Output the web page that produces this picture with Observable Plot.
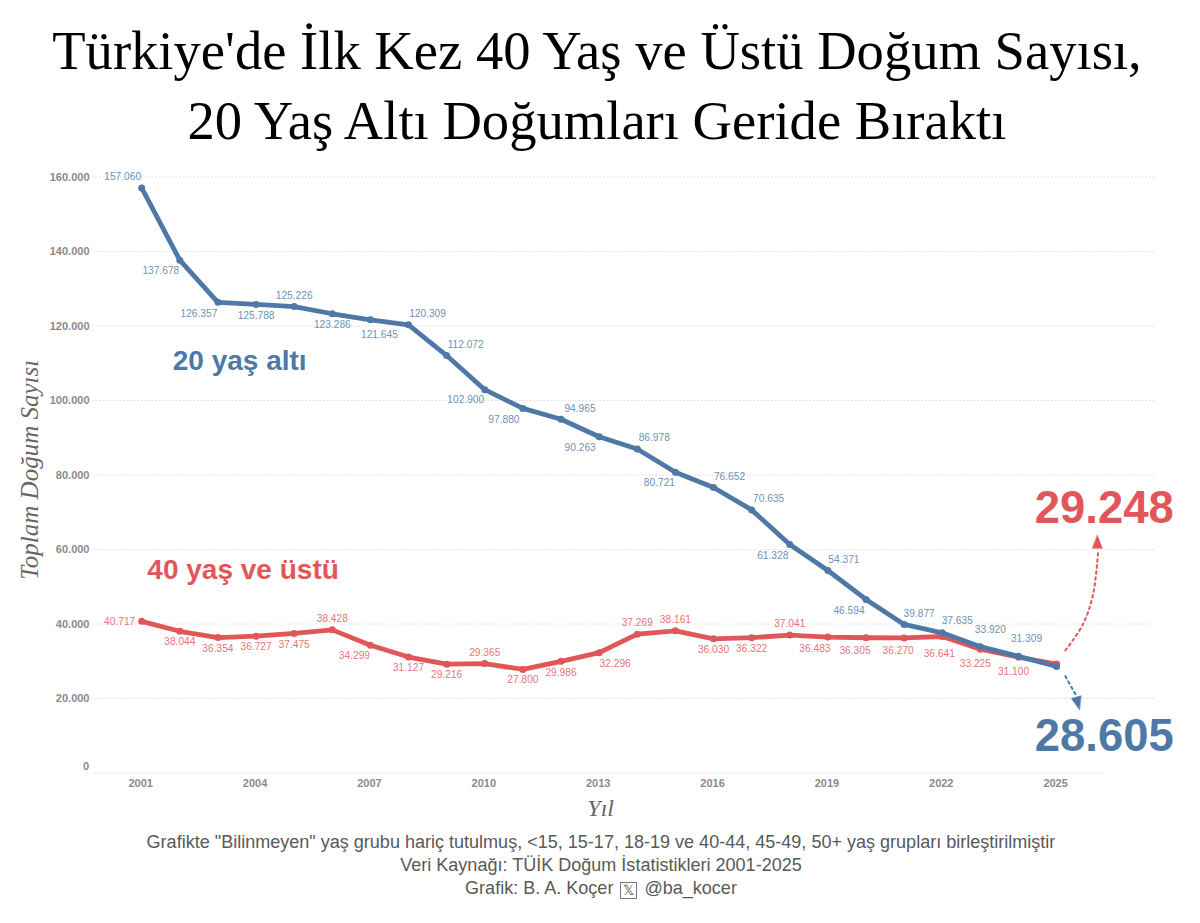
<!DOCTYPE html>
<html lang="tr"><head><meta charset="utf-8">
<script src="https://cdn.jsdelivr.net/npm/d3@7"></script>
<script src="https://cdn.jsdelivr.net/npm/@observablehq/plot@0.6"></script>
<style>
html,body{margin:0;padding:0;background:#fff;overflow:hidden}
#title{height:160px;box-sizing:border-box;padding-top:16px;text-align:center;font:54.6px/70px "Liberation Serif",serif;color:#000;position:relative;left:-3px}
#chart svg{display:block}
#caption{text-align:center;font:18.05px/23px "Liberation Sans",sans-serif;color:#595959;margin-top:-4px;position:relative;left:1px}
#caption .x{display:inline-block;box-sizing:border-box;width:17px;height:17px;line-height:15px;border:1px solid #777;font-size:14px;vertical-align:-1px;margin:0 2px}
</style></head><body>
<div id="title">Türkiye'de İlk Kez 40 Yaş ve Üstü Doğum Sayısı,<br>20 Yaş Altı Doğumları Geride Bıraktı</div>
<div id="chart"></div>
<div id="caption">Grafikte "Bilinmeyen" yaş grubu hariç tutulmuş, &lt;15, 15-17, 18-19 ve 40-44, 45-49, 50+ yaş grupları birleştirilmiştir<br>Veri Kaynağı: TÜİK Doğum İstatistikleri 2001-2025<br>Grafik: B. A. Koçer <span class="x">𝕏</span> @ba_kocer</div>
<script>
const years = d3.range(2001, 2026);
const under20 = [157060,137678,126357,125788,125226,123286,121645,120309,112072,102900,97880,94965,90263,86978,80721,76652,70635,61328,54371,46594,39877,37635,33920,31309,28605];
const over40 = [40717,38044,36354,36727,37475,38428,34299,31127,29216,29365,27800,29986,32296,37269,38161,36030,36322,37041,36483,36305,36270,36641,33225,31100,29248];
const tickYears = [2001,2004,2007,2010,2013,2016,2019,2022,2025];
const tickValues = [20000,40000,60000,80000,100000,120000,140000,160000];

// label nudges in pixels, one per year (last year is called out separately)
const under20Nudge = [[-19,-11],[-19,11],[-19,11],[0,11],[0,-11],[0,11],[9,15],[19,-11],[19,-11],[-19,10],[-19,11],[19,-11],[-19,11],[17,-11],[-16,10],[16,-11],[17,-11],[-17,11],[16,-11],[-17,11],[15,-11],[15,-12],[10,-17],[8,-18]];
const over40Nudge = [[-22,0],[0,10],[0,11],[0,11],[0,11],[0,-11],[-16,10],[0,11],[0,11],[0,-11],[0,10],[0,11],[16,11],[0,-11],[0,-11],[0,11],[0,11],[0,-11],[-13,12],[-11,13],[-6,13],[-3,17],[-5,14],[-5,15]];

const BLUE = "#4e79a7", RED = "#e15759";
const fmt = d3.formatLocale({decimal:",",thousands:".",grouping:[3],currency:["",""]}).format(",d");
const SANS = "Liberation Sans, Arial, sans-serif", SERIF = "Liberation Serif, serif";
const rows = (vals) => years.map((year,i)=>({year,value:vals[i]}));
const labels = (vals,nudge,color) => nudge.map((n,i)=>Plot.text([{year:years[i],value:vals[i]}],{
  x:"year",y:"value",text:d=>fmt(d.value),dx:n[0],dy:n[1],fill:color,fillOpacity:0.85,fontSize:10.2,fontFamily:SANS}));
const series = (vals,color) => [
  Plot.line(rows(vals),{x:"year",y:"value",stroke:color,strokeWidth:4.8,strokeLinejoin:"round"}),
  Plot.dot(rows(vals),{x:"year",y:"value",fill:color,r:3.5})
];
const head = {draw(c,l){c.moveTo(0,-l);c.lineTo(5,0);c.lineTo(-5,0);c.closePath();}};
const redArrow = [{x:2025.23,y:32900},{x:2025.70,y:40100},{x:2025.96,y:48200},{x:2026.09,y:59500}];
const blueArrow = [{x:2025.23,y:26000},{x:2025.42,y:22500},{x:2025.53,y:20500}];

const plot = Plot.plot({
  width:1200,height:675,marginLeft:92,marginRight:44,marginTop:16.5,marginBottom:62.5,
  style:{background:"#fff",fontFamily:SANS},
  x:{domain:[1999.71,2027.62],axis:null},
  y:{domain:[0,160000],axis:null},
  marks:[
    Plot.ruleY(tickValues,{stroke:"#dcdcdc",strokeWidth:1,strokeDasharray:"1.5,2"}),
    Plot.ruleY([0],{x1:1999.71,x2:2026.28,stroke:"#f0f0f0",strokeWidth:1}),
    Plot.axisY({ticks:tickValues,anchor:"left",tickSize:0,tickPadding:3,tickFormat:fmt,label:null,fill:"#8a8a8a",fontSize:11,fontWeight:"bold",fontFamily:SANS}),
    Plot.text([0],{x:[1999.71],y:d=>d,text:d=>String(d),dx:-3.5,dy:-6.5,textAnchor:"end",fill:"#8a8a8a",fontSize:11,fontWeight:"bold",fontFamily:SANS}),
    Plot.axisX({ticks:tickYears,anchor:"bottom",tickSize:0,tickPadding:6,dx:-1,tickFormat:d=>String(d),label:null,fill:"#8a8a8a",fontSize:11,fontWeight:"bold",fontFamily:SANS}),
    ...series(over40,RED),
    ...series(under20,BLUE),
    ...labels(under20,under20Nudge,BLUE),
    ...labels(over40,over40Nudge,RED),
    Plot.text(["20 yaş altı"],{x:[2003.57],y:[110600],text:d=>d,fill:BLUE,fontSize:28,fontWeight:"bold",fontFamily:SANS}),
    Plot.text(["40 yaş ve üstü"],{x:[2003.66],y:[54500],text:d=>d,fill:RED,fontSize:28,fontWeight:"bold",fontFamily:SANS}),
    Plot.text([fmt(over40[24])],{x:[2026.25],y:[71000],text:d=>d,fill:RED,fontSize:45.4,fontWeight:"bold",fontFamily:SANS}),
    Plot.text([fmt(under20[24])],{x:[2026.25],y:[9800],text:d=>d,fill:BLUE,fontSize:45.4,fontWeight:"bold",fontFamily:SANS}),
    Plot.line(redArrow,{x:"x",y:"y",curve:"catmull-rom",stroke:RED,strokeWidth:2,strokeDasharray:"2.5,3.5"}),
    Plot.vector([{x:2026.07,y:63800}],{x:"x",y:"y",length:13,rotate:0,anchor:"end",shape:head,fill:RED,stroke:RED,strokeWidth:0.5}),
    Plot.line(blueArrow,{x:"x",y:"y",curve:"catmull-rom",stroke:BLUE,strokeWidth:2,strokeDasharray:"2.5,3.5"}),
    Plot.vector([{x:2025.6,y:17000}],{x:"x",y:"y",length:13,rotate:165,anchor:"end",shape:head,fill:BLUE,stroke:BLUE,strokeWidth:0.5}),
    Plot.text(["Yıl"],{x:[2013.04],y:[-9600],text:d=>d,fill:"#666",fontSize:24,fontStyle:"italic",fontFamily:SERIF}),
    Plot.text(["Toplam Doğum Sayısı"],{x:[1998.06],y:[81400],text:d=>d,rotate:-90,fill:"#666",fontSize:25,fontStyle:"italic",fontFamily:SERIF})
  ]
});
document.getElementById("chart").append(plot);
</script></body></html>
